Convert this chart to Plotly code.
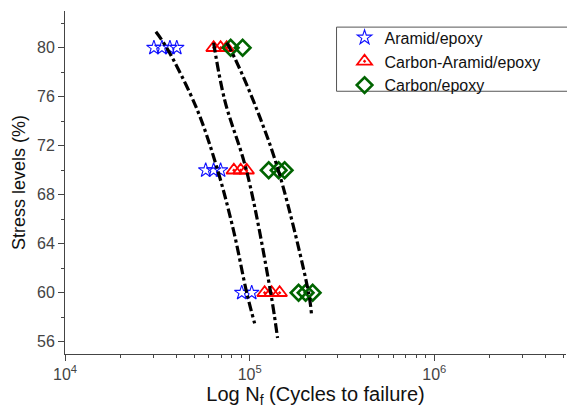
import plotly.graph_objects as go

# ---- data ----
aramid_N = [30300, 33500, 37000, 40300, 57800, 63800, 69600, 90600, 102600]
aramid_S = [80, 80, 80, 80, 70, 70, 70, 60, 60]

carbon_aramid_N = [63800, 69600, 75100, 82100, 89400, 96300, 120500, 131500, 145300]
carbon_aramid_S = [80, 80, 80, 70, 70, 70, 60, 60, 60]

carbon_N = [78900, 91600, 126800, 143500, 154600, 184000, 200900, 219300]
carbon_S = [80, 80, 70, 70, 70, 60, 60, 60]

# fitted trend curves
fit1_N = [31050, 35550, 51800, 67100, 82000, 96400, 106400]
fit1_S = [81.3, 80.0, 75.0, 70.0, 65.0, 60.0, 57.5]
fit2_N = [63800, 73300, 96400, 130000, 141600]
fit2_S = [80.4, 75.7, 69.9, 60.0, 56.3]
fit3_N = [75200, 84000, 109100, 143600, 208500, 216300]
fit3_S = [80.4, 79.0, 75.0, 69.9, 60.0, 58.2]

x_tickvals = [1e4, 1e5, 1e6]
x_ticktext = ["10<sup>4</sup>", "10<sup>5</sup>", "10<sup>6</sup>"]
x_minor = [k * 10 ** e for e in (4, 5, 6) for k in range(2, 10)]
y_tickvals = [56, 60, 64, 68, 72, 76, 80]

FONT = "Arial, Liberation Sans, sans-serif"

fig = go.Figure()
fig.add_trace(go.Scatter(
    x=aramid_N, y=aramid_S, mode="markers", name="Aramid/epoxy",
    marker=dict(symbol="star-open", size=11, color="#1010ff",
                line=dict(width=1.1, color="#1010ff"))))
fig.add_trace(go.Scatter(
    x=carbon_aramid_N, y=carbon_aramid_S, mode="markers", name="Carbon-Aramid/epoxy",
    marker=dict(symbol="triangle-up-open-dot", size=13, color="#ff0000",
                line=dict(width=1.8, color="#ff0000"))))
fig.add_trace(go.Scatter(
    x=carbon_N, y=carbon_S, mode="markers", name="Carbon/epoxy",
    marker=dict(symbol="diamond-open", size=12, color="#006400",
                line=dict(width=2.6, color="#006400"))))

for fx, fy in ((fit1_N, fit1_S), (fit2_N, fit2_S), (fit3_N, fit3_S)):
    fig.add_trace(go.Scatter(
        x=fx, y=fy, mode="lines", showlegend=False, line_shape="spline",
        line=dict(color="black", width=3.2, dash="dashdot")))

fig.update_layout(
    width=567, height=410,
    margin=dict(l=65, r=1, t=11, b=56),
    paper_bgcolor="white", plot_bgcolor="white",
    font=dict(family=FONT, color="#222"),
    showlegend=True,
    legend=dict(x=0.558, y=0.972, xanchor="left", yanchor="top",
                bgcolor="rgba(0,0,0,0)", borderwidth=0,
                font=dict(size=16, color="#111", family=FONT),
                tracegroupgap=0, itemsizing="trace"),
    shapes=[dict(type="rect", xref="paper", yref="paper",
                 x0=0.542, x1=1.01, y0=0.766, y1=0.953,
                 line=dict(color="#555", width=1))],
)

fig.update_xaxes(
    type="log", range=[4, 6.713],
    tickvals=x_tickvals, ticktext=x_ticktext,
    ticks="outside", ticklen=6, tickwidth=1, tickcolor="#444",
    showline=True, linecolor="#444", linewidth=1, mirror=False,
    showgrid=False, zeroline=False,
    tickfont=dict(size=16, color="#444"),
    minor=dict(tickvals=x_minor, ticks="outside", ticklen=3, tickcolor="#444", showgrid=False),
    title=dict(text="Log N<sub>f</sub> (Cycles to failure)", font=dict(size=20, color="#111"),
               standoff=4),
)
fig.update_yaxes(
    range=[55, 83],
    tickvals=y_tickvals,
    ticks="outside", ticklen=6, tickwidth=1, tickcolor="#444",
    showline=True, linecolor="#444", linewidth=1, mirror=False,
    showgrid=False, zeroline=False,
    tickfont=dict(size=16, color="#444"),
    minor=dict(tick0=0, dtick=2, ticks="outside", ticklen=3, tickcolor="#444", showgrid=False),
    title=dict(text="Stress levels (%)", font=dict(size=18, color="#111"), standoff=6),
)

fig.write_html("out.html")
